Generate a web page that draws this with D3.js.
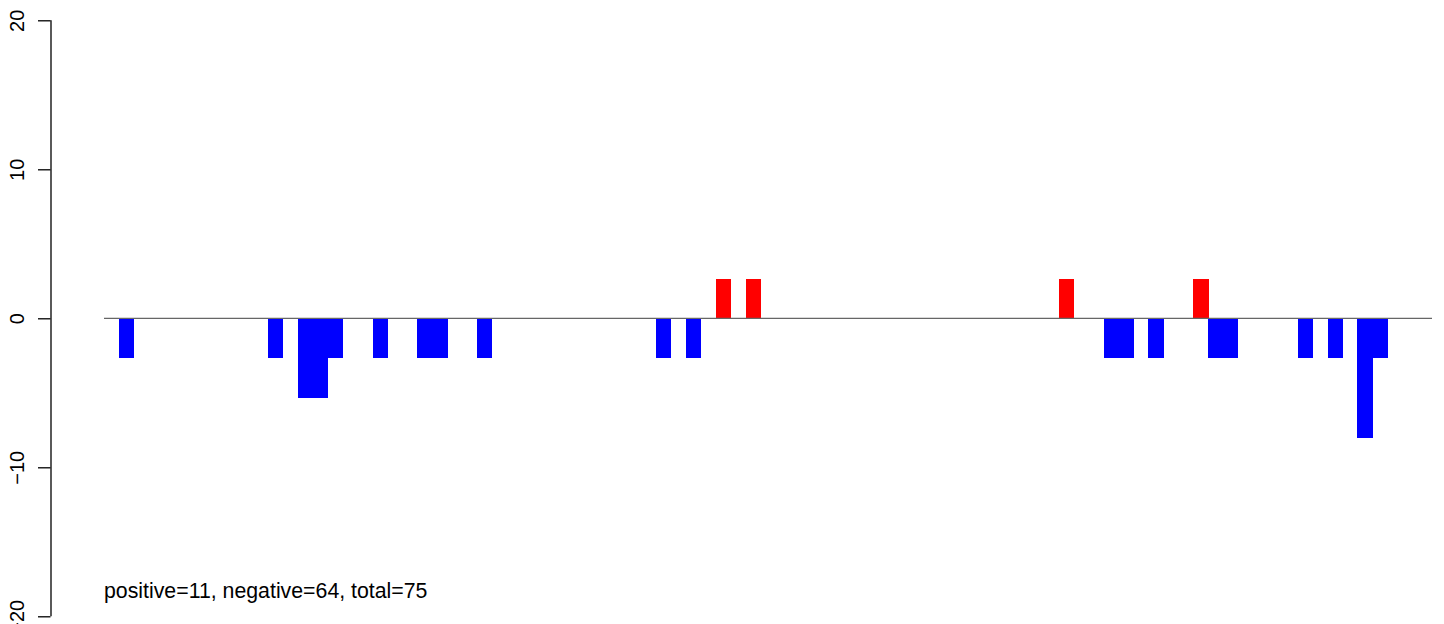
<!DOCTYPE html>
<html>
<head>
<meta charset="utf-8">
<script src="https://cdn.jsdelivr.net/npm/d3@7"></script>
<style>
  html, body { margin: 0; padding: 0; background: #fff; }
  svg { display: block; font-family: "Liberation Sans", Arial, Helvetica, sans-serif; }
</style>
</head>
<body>
<script>
// ---- data ----
const positions = d3.range(1, 90); // 89 bar slots
const values = [
  0, -2.67, 0, 0, 0, 0, 0, 0, 0, 0,
  0, -2.67, 0, -5.33, -5.33, -2.67, 0, 0, -2.67, 0,
  0, -2.67, -2.67, 0, 0, -2.67, 0, 0, 0, 0,
  0, 0, 0, 0, 0, 0, 0, -2.67, 0, -2.67,
  0, 2.67, 0, 2.67, 0, 0, 0, 0, 0, 0,
  0, 0, 0, 0, 0, 0, 0, 0, 0, 0,
  0, 0, 0, 0, 2.67, 0, 0, -2.67, -2.67, 0,
  -2.67, 0, 0, 2.67, -2.67, -2.67, 0, 0, 0, 0,
  -2.67, 0, -2.67, 0, -8, -2.67, 0, 0, 0
];
const yTicks = [-20, -10, 0, 10, 20];
const annotation = "positive=11, negative=64, total=75";

// ---- layout ----
const W = 1444, H = 624;
const svg = d3.select("body").append("svg").attr("width", W).attr("height", H);

const x = d3.scaleBand().domain(positions).range([104, 1432]).padding(0);
const y = d3.scaleLinear().domain([-20, 20]).range([616.3, 20.3]);

// bars
svg.append("g").attr("shape-rendering", "crispEdges").selectAll("rect")
  .data(positions.map((p, i) => ({ p, v: values[i] })).filter(d => d.v !== 0))
  .join("rect")
  .attr("x", d => x(d.p))
  .attr("width", x.bandwidth() + 0.4)
  .attr("y", d => y(Math.max(0, d.v)))
  .attr("height", d => Math.abs(y(d.v) - y(0)))
  .attr("fill", d => d.v > 0 ? "#ff0000" : "#0000ff");

// zero line
svg.append("line")
  .attr("x1", x.range()[0]).attr("x2", x.range()[1])
  .attr("y1", y(0)).attr("y2", y(0))
  .attr("stroke", "#666").attr("stroke-width", 1.2);

// y axis
const axis = svg.append("g")
  .attr("transform", "translate(50.5,0)")
  .call(d3.axisLeft(y).tickValues(yTicks).tickSize(12.5).tickSizeOuter(0));
axis.select(".domain").attr("stroke", "#000").attr("stroke-width", 1.3)
  .attr("d", `M0.5,${y(-20)}V${y(20)}`);
axis.selectAll(".tick line").attr("stroke", "#000").attr("stroke-width", 1.3);
axis.selectAll(".tick text")
  .attr("x", null).attr("dy", null)
  .attr("transform", "translate(-27,0) rotate(-90)")
  .attr("text-anchor", "middle")
  .attr("fill", "#000")
  .style("font-size", "20px")
  .style("font-family", "Liberation Sans, Arial, sans-serif");

// annotation
svg.append("text")
  .attr("x", 104).attr("y", 597.7)
  .attr("font-size", 21.3)
  .attr("fill", "#000")
  .text(annotation);
</script>
</body>
</html>
